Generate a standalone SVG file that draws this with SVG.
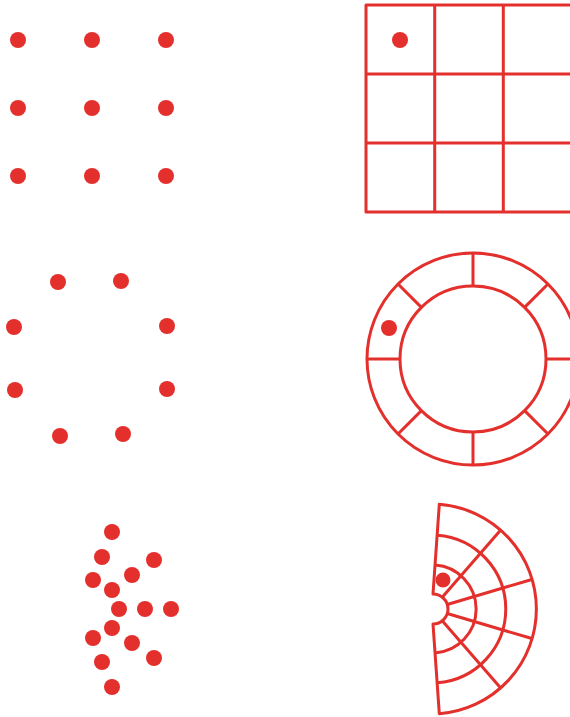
<svg xmlns="http://www.w3.org/2000/svg" width="570" height="717" viewBox="0 0 570 717">
<style>
.d{fill:#e3302c}
.l{fill:none;stroke:#e3302c;stroke-width:3;stroke-linejoin:round}
</style>
<rect width="570" height="717" fill="#ffffff"/>
<g id="square-dots">
<circle class="d" cx="18" cy="40" r="8"/><circle class="d" cx="92" cy="40" r="8"/><circle class="d" cx="166" cy="40" r="8"/>
<circle class="d" cx="18" cy="108" r="8"/><circle class="d" cx="92" cy="108" r="8"/><circle class="d" cx="166" cy="108" r="8"/>
<circle class="d" cx="18" cy="176" r="8"/><circle class="d" cx="92" cy="176" r="8"/><circle class="d" cx="166" cy="176" r="8"/>
</g>
<g id="ring-dots">
<circle class="d" cx="58" cy="282" r="8"/><circle class="d" cx="121" cy="281" r="8"/>
<circle class="d" cx="14" cy="327" r="8"/><circle class="d" cx="167" cy="326" r="8"/>
<circle class="d" cx="15" cy="390" r="8"/><circle class="d" cx="167" cy="389" r="8"/>
<circle class="d" cx="60" cy="436" r="8"/><circle class="d" cx="123" cy="434" r="8"/>
</g>
<g id="fan-dots">
<circle class="d" cx="112" cy="532" r="8"/>
<circle class="d" cx="102" cy="557" r="8"/><circle class="d" cx="154" cy="560" r="8"/>
<circle class="d" cx="93" cy="580" r="8"/><circle class="d" cx="132" cy="575" r="8"/>
<circle class="d" cx="112" cy="590" r="8"/>
<circle class="d" cx="119" cy="609" r="8"/><circle class="d" cx="145" cy="609" r="8"/><circle class="d" cx="171" cy="609" r="8"/>
<circle class="d" cx="112" cy="628" r="8"/>
<circle class="d" cx="93" cy="638" r="8"/><circle class="d" cx="132" cy="643" r="8"/>
<circle class="d" cx="102" cy="662" r="8"/><circle class="d" cx="154" cy="658" r="8"/>
<circle class="d" cx="112" cy="687" r="8"/>
</g>
<g id="grid">
<rect class="l" x="366" y="5" width="206" height="207"/>
<path class="l" d="M434.7 5V212M503.3 5V212M366 74H572M366 143H572"/>
<circle class="d" cx="400" cy="40" r="8"/>
</g>
<g id="ring">
<circle class="l" cx="473" cy="359" r="106"/>
<circle class="l" cx="473" cy="359" r="73"/>
<path class="l" d="M546 359H579M524.6 410.6L548 434M473 432V465M421.4 410.6L398 434M400 359H367M421.4 307.4L398 284M473 286V253M524.6 307.4L548 284"/>
<circle class="d" cx="389" cy="328" r="8"/>
</g>
<g id="fan">
<path class="l" d="M433 594L439.3 504.3A105 105 0 0 1 439.3 713.7L433 624A15 15 0 0 0 433 594Z"/>
<path class="l" d="M435.1 565.1A44 44 0 0 1 435.1 652.9M437.2 535.2A74 74 0 0 1 437.2 682.8"/>
<path class="l" d="M446.4 604.7L532.7 579.2M446.4 613.3L532.7 638.8M441.8 597.7L500.9 529.8M441.8 620.3L500.9 688.2"/>
<circle class="d" cx="443" cy="580" r="7.5"/>
</g>
</svg>
